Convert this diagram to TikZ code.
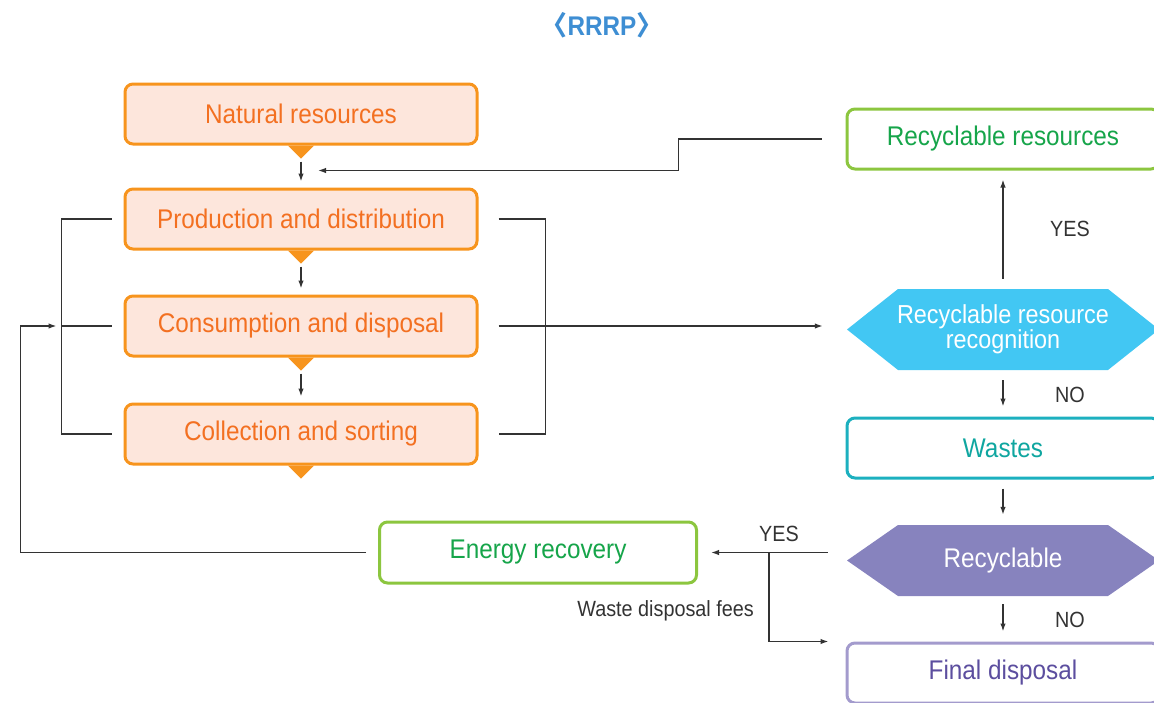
\documentclass[tikz,border=0pt]{standalone}
\usepackage{fontspec}
\setmainfont{Liberation Sans}[FakeStretch=0.9]
\newfontfamily\cjk{Noto Sans CJK KR}
\usetikzlibrary{calc,arrows.meta}

\definecolor{orgline}{HTML}{F7941D}
\definecolor{orgfill}{HTML}{FDE6DC}
\definecolor{orgtext}{HTML}{F37021}
\definecolor{grnline}{HTML}{8CC63F}
\definecolor{grntext}{HTML}{16A54A}
\definecolor{cyanfill}{HTML}{42C7F3}
\definecolor{tealline}{HTML}{1CB0BF}
\definecolor{tealtext}{HTML}{0FA6A0}
\definecolor{purfill}{HTML}{8783BE}
\definecolor{purline}{HTML}{A39BCD}
\definecolor{purtext}{HTML}{5C4E9F}
\definecolor{linec}{HTML}{333333}
\definecolor{titleblue}{HTML}{3E8ED3}

\begin{document}
\begin{tikzpicture}[x=1pt,y=-1pt,
  boxfont/.style={font=\fontsize{27}{30}\selectfont},
  stagebox/.style={draw=orgline, fill=orgfill, line width=3pt, rounded corners=8pt,
    minimum width=352pt, minimum height=60pt, inner sep=0pt, text=orgtext, boxfont},
  outbox/.style={draw=#1, fill=white, line width=3pt, rounded corners=8pt,
    minimum width=312pt, minimum height=60pt, inner sep=0pt, boxfont},
  hexa/.style={minimum width=312pt, inner sep=0pt, text=white, align=center, boxfont,
    path picture={\fill[#1] (path picture bounding box.west)
      -- ($(path picture bounding box.north west)+(51,0)$)
      -- ($(path picture bounding box.north east)+(-51,0)$)
      -- (path picture bounding box.east)
      -- ($(path picture bounding box.south east)+(-51,0)$)
      -- ($(path picture bounding box.south west)+(51,0)$) -- cycle;}},
  wire/.style={draw=linec, line width=1.4pt},
  arr/.style={wire, -{Latex[length=8pt,width=5.5pt]}},
  lbl/.style={text=linec, font=\fontsize{22}{24}\selectfont, inner sep=0pt},
  pointer/.style={fill=orgline}
]
\useasboundingbox (0,0) rectangle (1154,702);

% title
\node[text=titleblue, font=\bfseries\fontsize{27}{30}\selectfont, inner sep=0pt] (ttl) at (602,25)
  {{\cjk 〈}RRRP{\cjk 〉}};

% life-cycle stages
\node[stagebox] (nat)  at (301,114) {Natural resources};
\node[stagebox] (prod) at (301,219) {Production and distribution};
\node[stagebox] (cons) at (301,326) {Consumption and disposal};
\node[stagebox] (coll) at (301,434) {Collection and sorting};
\foreach \n in {nat,prod,cons,coll}
  \fill[pointer] ($(\n.south)+(-13,0)$) -- ($(\n.south)+(13,0)$) -- ($(\n.south)+(0,13)$) -- cycle;

% right-hand column
\node[outbox=grnline, text=grntext] (rres) at (1003,139) {Recyclable resources};
\node[hexa=cyanfill, minimum height=81pt, font=\fontsize{26}{25}\selectfont] (rrr) at (1003,329.5)
  {Recyclable resource\\recognition};
\node[outbox=tealline, text=tealtext] (waste) at (1003,448) {Wastes};
\node[hexa=purfill, minimum height=71pt] (recy) at (1003,560.5) {Recyclable};
\node[outbox=purline, text=purtext] (fin) at (1003,673) {Final disposal};
\node[outbox=grnline, text=grntext, minimum width=317pt, minimum height=61pt] (en) at (538,552.5) {Energy recovery};

% flow between stages
\draw[arr] ($(nat.south)+(0,16)$)  -- ($(prod.north)+(0,-6)$);
\draw[arr] ($(prod.south)+(0,16)$) -- ($(cons.north)+(0,-6)$);
\draw[arr] ($(cons.south)+(0,16)$) -- ($(coll.north)+(0,-6)$);

% brackets around the stages
\draw[wire] ($(prod.west)+(-12,0)$) -- ++(-50,0) |- ($(coll.west)+(-12,0)$);
\draw[wire] ($(cons.west)+(-12,0)$) -- ($(cons.west)+(-62,0)$);
\draw[wire] ($(prod.east)+(20,0)$) -- ++(47,0) |- ($(coll.east)+(20,0)$);

% to recognition
\draw[arr] ($(cons.east)+(20,0)$) -- ($(rrr.west |- cons.east)+(-24,0)$);

% recyclable resources back into production
\coordinate (join) at ($(prod.north)+(17,-17)$);
\draw[arr] ($(rres.west)+(-24,0)$) -- ++(-143,0) |- (join);

% decision flow
\draw[arr] ($(rrr.north)+(0,-10)$) -- ($(rres.south)+(0,9)$);
\node[lbl] (yes1) at (1070,229) {YES};
\draw[arr] ($(rrr.south)+(0,10)$) -- ($(waste.north)+(0,-10)$);
\node[lbl] (no1) at (1070,395) {NO};
\draw[arr] ($(waste.south)+(0,9)$) -- ($(recy.north)+(0,-10)$);
\draw[arr] ($(recy.south)+(0,8)$) -- ($(fin.north)+(0,-10)$);
\node[lbl] (no2) at (1070,620) {NO};

% recyclable: yes -> energy recovery, fees -> final disposal
\draw[arr] ($(recy.west |- en.east)+(-19,0)$) -- ($(en.east)+(13,0)$);
\node[lbl] (yes2) at (779,534) {YES};
\coordinate (branch) at ($(en.east)+(71,0)$);
\draw[arr] (branch) |- ($(fin.north west)+(-17,0)$);
\node[lbl, anchor=east] (fees) at (754,611) {Waste disposal fees};

% energy recovery feeds back into consumption
\draw[arr] ($(en.west)+(-12,0)$) -| ($(cons.west)+(-103,0)$) -- ($(cons.west)+(-67,0)$);
\end{tikzpicture}
\end{document}
